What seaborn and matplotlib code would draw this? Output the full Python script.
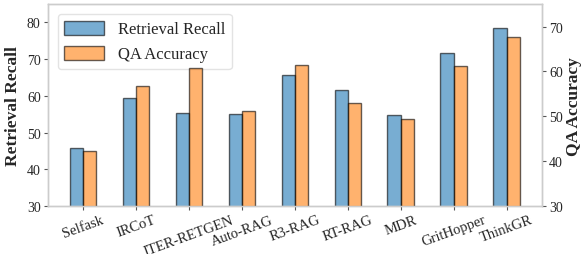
import matplotlib as mpl
mpl.use("Agg")
import matplotlib.pyplot as plt
import seaborn as sns
import pandas as pd
import numpy as np

methods = ['Selfask', 'IRCoT', 'ITER-RETGEN', 'Auto-RAG', 'R3-RAG',
           'RT-RAG', 'MDR', 'GritHopper', 'ThinkGR']
recall = [45.8, 59.4, 55.4, 55.1, 65.6, 61.5, 54.8, 71.6, 78.4]
qa_acc = [42.2, 56.8, 60.7, 51.2, 61.5, 53.0, 49.5, 61.3, 67.6]
metrics = ['Retrieval Recall', 'QA Accuracy']

sns.set_style("white")
plt.rcParams['font.family'] = ['Liberation Serif', 'DejaVu Serif']

df = pd.DataFrame({
    'method': methods * 2,
    'metric': [metrics[0]] * len(methods) + [metrics[1]] * len(methods),
    'value': recall + qa_acc,
})
# each axis only gets its own metric, the other stays NaN so dodge positions are kept
left = df.copy()
left.loc[left['metric'] == metrics[1], 'value'] = np.nan
right = df.copy()
right.loc[right['metric'] == metrics[0], 'value'] = np.nan

fig = plt.figure(figsize=(5.81, 2.55), dpi=100)
ax = fig.add_axes([0.082, 0.188, 0.851, 0.792])
ax2 = ax.twinx()

pal = {metrics[0]: '#1f77b4', metrics[1]: '#ff7f0e'}
for a, d in ((ax, left), (ax2, right)):
    sns.barplot(data=d, x='method', y='value', hue='metric', hue_order=metrics,
                order=methods, palette=pal, width=0.5, alpha=0.6, saturation=1,
                edgecolor='black', linewidth=1, ax=a, legend=False)

ax.set_ylim(30, 85)
ax2.set_ylim(30, 75)
ax.set_yticks([30, 40, 50, 60, 70, 80])
ax2.set_yticks([30, 40, 50, 60, 70])
ax.set_xlim(-0.67, 8.67)

ax.set_xlabel('')
ax.set_ylabel('Retrieval Recall', fontsize=12.5, fontweight='bold', labelpad=4)
ax2.set_ylabel('QA Accuracy', fontsize=12.5, fontweight='bold', labelpad=2)
ax.set_xticks(range(len(methods)))
ax.set_xticklabels(methods, rotation=20, fontsize=10.5)
ax.tick_params(axis='y', labelsize=10, length=3, color='#555555', left=True, pad=2)
ax.tick_params(axis='x', length=3, color='#555555', bottom=True, pad=2)
ax2.tick_params(axis='y', labelsize=10, length=3, color='#555555', right=True, pad=2)

for a in (ax, ax2):
    for s in a.spines.values():
        s.set_color('#cccccc')
        s.set_linewidth(1)

handles = [mpl.patches.Patch(facecolor=pal[m], alpha=0.6, edgecolor='black',
                             linewidth=1) for m in metrics]
leg = ax.legend(handles, metrics, loc='upper left', fontsize=12, frameon=True,
                handlelength=2.4, handleheight=0.9, borderaxespad=0.6)
leg.get_frame().set_edgecolor('#dddddd')

fig.savefig('out.png', dpi=100)
